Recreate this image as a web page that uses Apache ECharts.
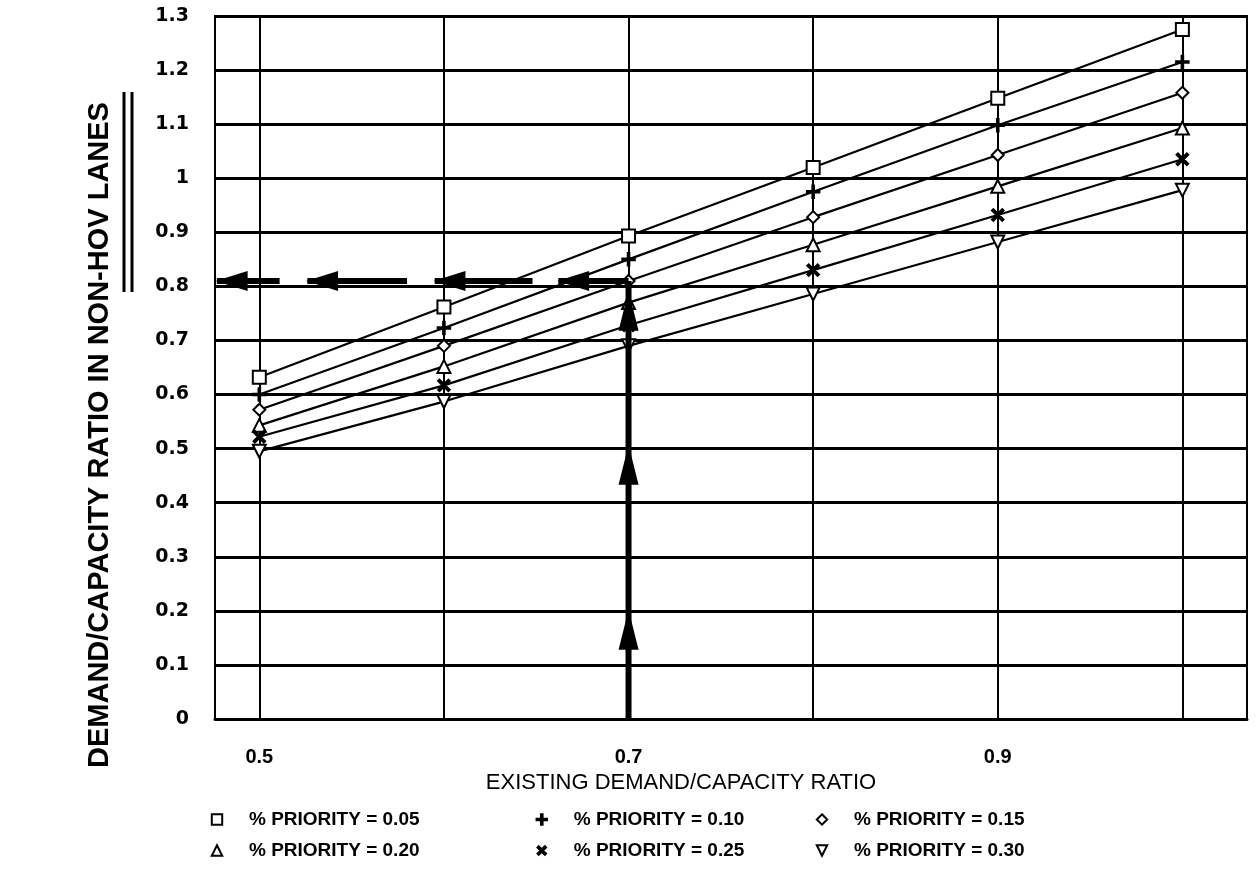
<!DOCTYPE html>
<html><head><meta charset="utf-8">
<script src="https://cdn.jsdelivr.net/npm/echarts@6/dist/echarts.min.js"></script>
<style>html,body{margin:0;padding:0;background:#fff}#c{width:1256px;height:883px}</style>
</head><body><div id="c"></div>
<script>
const xValues = [0.5, 0.6, 0.7, 0.8, 0.9, 1.0];
const xLabelValues = [0.5, 0.7, 0.9];
const seriesNames = ['% PRIORITY = 0.05','% PRIORITY = 0.10','% PRIORITY = 0.15','% PRIORITY = 0.20','% PRIORITY = 0.25','% PRIORITY = 0.30'];
const p05 = [0.632, 0.762, 0.893, 1.020, 1.148, 1.275];
const p10 = [0.600, 0.723, 0.850, 0.975, 1.098, 1.215];
const p15 = [0.572, 0.690, 0.810, 0.928, 1.043, 1.158];
const p20 = [0.543, 0.652, 0.770, 0.877, 0.985, 1.093];
const p25 = [0.522, 0.617, 0.728, 0.830, 0.932, 1.035];
const p30 = [0.495, 0.587, 0.690, 0.786, 0.882, 0.978];
// annotation arrows (reading path)
const readX = 0.7, readY = 0.81;
const upArrowY = [0.165, 0.47, 0.755];
const leftArrowX = [0.485, 0.534, 0.603, 0.670];
const dashStart = [0.477, 0.526, 0.595, 0.662];
const dashEnd = [0.511, 0.580, 0.648, 0.700];

const allSeries = [p05,p10,p15,p20,p25,p30];
const plusPath = 'path://M4.2,0H5.8V10H4.2Z M0,4.2H10V5.8H0Z';
const symbols = ['emptyRect', plusPath, 'emptyDiamond', 'emptyTriangle', plusPath, 'emptyTriangle'];
const rotations = [0, 0, 0, 0, 45, 180];
const sizes = [13, 13, 12, 13, 15, 13];

const chart = echarts.init(document.getElementById('c'));
const series = allSeries.map((vals, i) => ({
  name: seriesNames[i], type: 'line',
  data: xValues.map((x, j) => [x, vals[j]]),
  symbol: symbols[i], symbolSize: sizes[i], symbolRotate: rotations[i],
  showSymbol: true,
  lineStyle: {color: '#000', width: 2.2},
  itemStyle: {color: '#000', borderColor: '#000', borderWidth: 1.5},
  z: 5, silent: true
}));
series.push({
  type: 'line', data: [[readX, 0], [readX, readY]], symbol: 'none',
  lineStyle: {color: '#000', width: 6}, z: 6, silent: true
});
dashStart.forEach((s, i) => series.push({
  type: 'line', data: [[s, readY], [dashEnd[i], readY]], symbol: 'none',
  lineStyle: {color: '#000', width: 6}, z: 6, silent: true
}));
series.push({
  type: 'scatter', data: upArrowY.map(y => [readX, y]), symbol: 'triangle',
  symbolSize: [20, 40], itemStyle: {color: '#000', opacity: 1}, z: 7, silent: true
});
series.push({
  type: 'scatter', data: leftArrowX.map(x => [x, readY]), symbol: 'triangle',
  symbolRotate: 90, symbolSize: [20, 32], itemStyle: {color: '#000', opacity: 1}, z: 7, silent: true
});

const legendFont = {fontFamily: 'Liberation Sans, Arial, sans-serif', fontSize: 19, fontWeight: 'bold', color: '#000'};
function leg(left, names) {
  return {
    orient: 'vertical', left: left, top: 805, itemGap: 12, itemWidth: 14, itemHeight: 13,
    data: names, textStyle: Object.assign({padding: [0, 0, 0, 20]}, legendFont),
    itemStyle: {color: '#000', borderColor: '#000'}, lineStyle: {width: 0, opacity: 0},
    selectedMode: false
  };
}

const yName = 'DEMAND/CAPACITY RATIO IN NON-HOV LANES';

chart.setOption({
  animation: false,
  backgroundColor: '#fff',
  grid: {left: 215, top: 16, right: 9, bottom: 164, show: true, borderColor: '#000', borderWidth: 2},
  xAxis: {
    type: 'value', min: 0.476, max: 1.035,
    name: 'EXISTING DEMAND/CAPACITY RATIO', nameLocation: 'middle', nameGap: 52,
    nameTextStyle: {fontFamily: 'Liberation Sans, Arial, sans-serif', fontSize: 22, color: '#000', padding: [0, 100, 0, 0]},
    axisLine: {show: true, lineStyle: {color: '#000', width: 3}},
    axisTick: {show: false, customValues: xValues},
    axisLabel: {customValues: xLabelValues, margin: 28, color: '#000', fontSize: 20, fontWeight: 'bold',
      fontFamily: 'Liberation Sans, Arial, sans-serif', formatter: v => String(v)},
    splitLine: {show: true, lineStyle: {color: '#000', width: 2}}
  },
  yAxis: {
    type: 'value', min: 0, max: 1.3, interval: 0.1,
    axisLine: {show: true, lineStyle: {color: '#000', width: 2}},
    axisTick: {show: false},
    axisLabel: {margin: 26, color: '#000', fontSize: 19, fontWeight: 'bold',
      fontFamily: 'DejaVu Sans, sans-serif', formatter: v => String(Math.round(v * 10) / 10)},
    splitLine: {show: true, lineStyle: {color: '#000', width: 3}}
  },
  legend: [
    leg(205, [seriesNames[0], seriesNames[3]]),
    leg(528, [seriesNames[1], seriesNames[4]]),
    leg(810, [seriesNames[2], seriesNames[5]])
  ],
  graphic: [
    {type: 'text', x: 100, y: 435, rotation: Math.PI / 2,
      style: {text: yName, fill: '#000', font: 'bold 29px "Liberation Sans", Arial, sans-serif',
        align: 'center', verticalAlign: 'middle'}},
    {type: 'line', shape: {x1: 124, y1: 92, x2: 124, y2: 292}, style: {stroke: '#000', lineWidth: 3}},
    {type: 'line', shape: {x1: 132, y1: 92, x2: 132, y2: 292}, style: {stroke: '#000', lineWidth: 3}}
  ],
  series: series
});
</script></body></html>
